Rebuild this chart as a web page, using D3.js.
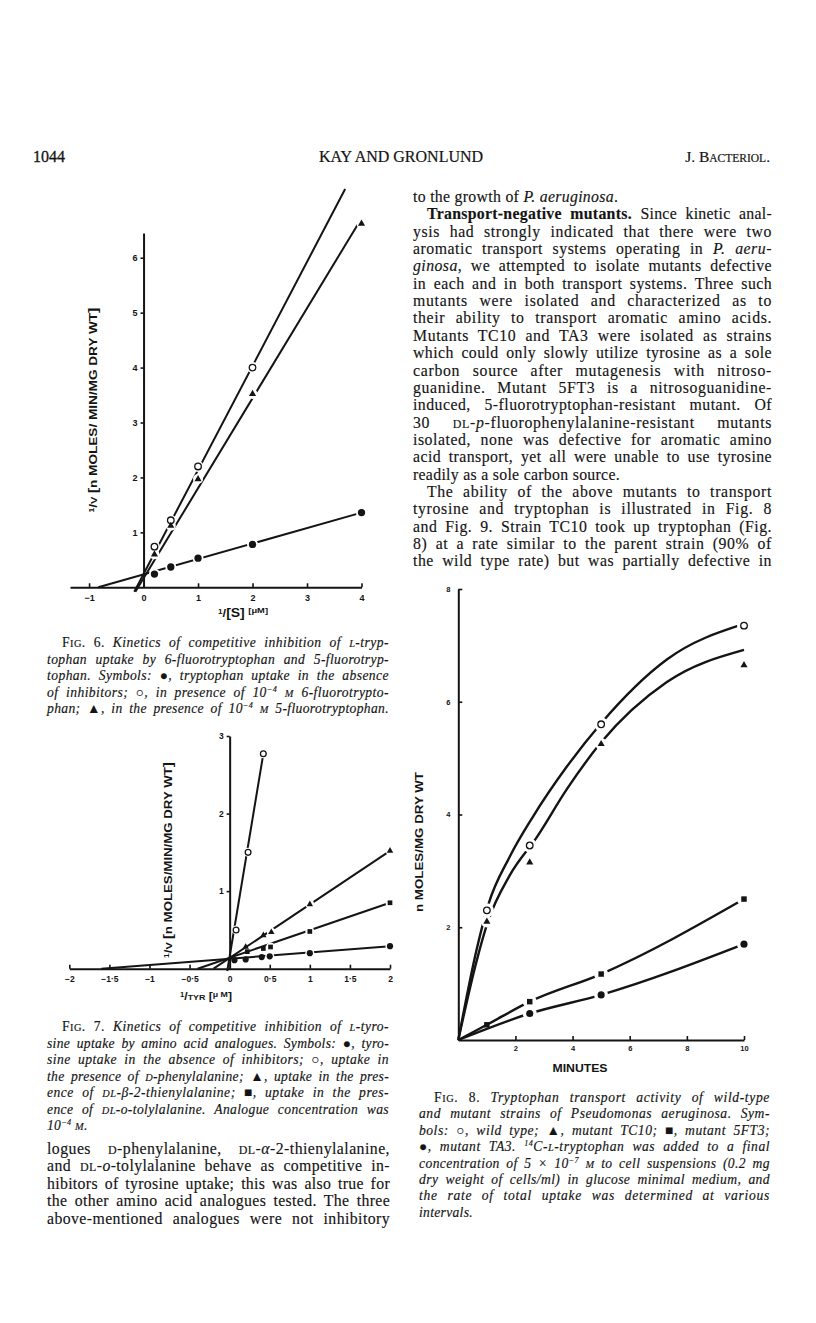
<!DOCTYPE html>
<html>
<head>
<meta charset="utf-8">
<script src="https://cdnjs.cloudflare.com/ajax/libs/d3/7.8.5/d3.min.js"></script>
<style>
  body { margin: 0; background: #fff; }
  svg { display: block; }
</style>
</head>
<body>
<svg id="page" width="816" height="1323"></svg>
<script>
// ---- Fig. 6 : 1/v against 1/[S] (tryptophan) ----
var fig6XTicks = [-1, 0, 1, 2, 3, 4];
var fig6YTicks = [1, 2, 3, 4, 5, 6];
var fig6ClosedX = [0.2, 0.5, 1, 2, 4];
var fig6Closed = [0.24, 0.37, 0.53, 0.78, 1.36];
var fig6OpenX = [0.2, 0.5, 1, 2];
var fig6Open = [0.74, 1.22, 2.2, 4.0];
var fig6TriX = [0.2, 0.5, 1, 2, 4];
var fig6Tri = [0.6, 1.12, 1.97, 3.52, 6.62];
// hand drawn lines, [x0, y0, x1, y1]
var fig6ClosedLine = [-0.83, 0, 4, 1.36];
var fig6OpenLine = [-0.17, -0.08, 3.7, 7.25];
var fig6TriLine = [-0.15, -0.08, 3.94, 6.62];

// ---- Fig. 7 : 1/v against 1/TYR ----
var fig7XTicks = [-2, -1.5, -1, -0.5, 0, 0.5, 1, 1.5, 2];
var fig7XLabels = ["\u22122", "\u22121\u00b75", "\u22121", "\u22120\u00b75", "0", "0\u00b75", "1", "1\u00b75", "2"];
var fig7YTicks = [1, 2, 3];
var fig7ClosedX = [0.06, 0.2, 0.4, 0.5, 1, 2];
var fig7Closed = [0.11, 0.12, 0.15, 0.16, 0.2, 0.29];
var fig7OpenX = [0.08, 0.23, 0.42];
var fig7Open = [0.5, 1.5, 2.77];
var fig7TriX = [0.2, 0.42, 0.52, 1, 2];
var fig7Tri = [0.28, 0.43, 0.47, 0.83, 1.52];
var fig7SqX = [0.22, 0.42, 0.51, 1, 2];
var fig7Sq = [0.22, 0.26, 0.28, 0.48, 0.85];
var fig7ClosedLine = [-1.6, 0, 2, 0.29];
var fig7OpenLine = [-0.03, -0.03, 0.42, 2.77];
var fig7TriLine = [-0.2, 0, 2, 1.52];
var fig7SqLine = [-0.4, 0, 2, 0.85];

// ---- Fig. 8 : uptake against minutes ----
var fig8XTicks = [2, 4, 6, 8, 10];
var fig8YTicks = [2, 4, 6, 8];
var fig8X = [1, 2.5, 5, 10];
var fig8Open = [2.3, 3.45, 5.6, 7.35];
var fig8Tri = [2.1, 3.15, 5.25, 6.65];
var fig8Sq = [0.27, 0.68, 1.17, 2.5];
var fig8ClosedX = [2.5, 5, 10];
var fig8Closed = [0.47, 0.8, 1.7];
// hand drawn curves
var fig8OpenCurveX = [0, 0.64, 1.05, 1.8, 2.6, 3.8, 5, 7.3, 10];
var fig8OpenCurveY = [0, 1.6, 2.4, 3.25, 3.95, 4.85, 5.62, 6.75, 7.38];
var fig8TriCurveX = [0, 0.64, 1.05, 1.8, 2.75, 3.8, 5, 7.3, 10];
var fig8TriCurveY = [0, 1.4, 2.12, 2.92, 3.6, 4.45, 5.28, 6.35, 6.92];

// ---- page text ----
var rightColumnText = [
  "to the growth of {i|P. aeruginosa}.$",
  ">{b|Transport-negative mutants.} Since kinetic anal-",
  "ysis had strongly indicated that there were two",
  "aromatic transport systems operating in {i|P. aeru-}",
  "{i|ginosa}, we attempted to isolate mutants defective",
  "in each and in both transport systems. Three such",
  "mutants were isolated and characterized as to",
  "their ability to transport aromatic amino acids.",
  "Mutants TC10 and TA3 were isolated as strains",
  "which could only slowly utilize tyrosine as a sole",
  "carbon source after mutagenesis with nitroso-",
  "guanidine. Mutant 5FT3 is a nitrosoguanidine-",
  "induced, 5-fluorotryptophan-resistant mutant. Of",
  "30 {sc|dl}-{i|p}-fluorophenylalanine-resistant mutants",
  "isolated, none was defective for aromatic amino",
  "acid transport, yet all were unable to use tyrosine",
  "readily as a sole carbon source.$",
  ">The ability of the above mutants to transport",
  "tyrosine and tryptophan is illustrated in Fig. 8",
  "and Fig. 9. Strain TC10 took up tryptophan (Fig.",
  "8) at a rate similar to the parent strain (90% of",
  "the wild type rate) but was partially defective in"
];
var fig6Caption = [
  ">{r|F}{r.sc|ig}{r|. 6.} Kinetics of competitive inhibition of {sc|l}-tryp-",
  "tophan uptake by 6-fluorotryptophan and 5-fluorotryp-",
  "tophan. Symbols: {r|\u25cf}, tryptophan uptake in the absence",
  "of inhibitors; {r|\u25cb}, in presence of 10{sup|\u22124} {sc|m} 6-fluorotrypto-",
  "phan; {r|\u25b2}, in the presence of 10{sup|\u22124} {sc|m} 5-fluorotryptophan."
];
var fig7Caption = [
  ">{r|F}{r.sc|ig}{r|. 7.} Kinetics of competitive inhibition of {sc|l}-tyro-",
  "sine uptake by amino acid analogues. Symbols: {r|\u25cf}, tyro-",
  "sine uptake in the absence of inhibitors; {r|\u25cb}, uptake in",
  "the presence of {sc|d}-phenylalanine; {r|\u25b2}, uptake in the pres-",
  "ence of {sc|dl}-\u03b2-2-thienylalanine; {r|\u25a0}, uptake in the pres-",
  "ence of {sc|dl}-o-tolylalanine. Analogue concentration was",
  "10{sup|\u22124} {sc|m}.$"
];
var leftColumnText = [
  "logues {sc|d}-phenylalanine, {sc|dl}-{i|\u03b1}-2-thienylalanine,",
  "and {sc|dl}-{i|o}-tolylalanine behave as competitive in-",
  "hibitors of tyrosine uptake; this was also true for",
  "the other amino acid analogues tested. The three",
  "above-mentioned analogues were not inhibitory"
];
var fig8Caption = [
  ">{r|F}{r.sc|ig}{r|. 8.} Tryptophan transport activity of wild-type",
  "and mutant strains of Pseudomonas aeruginosa. Sym-",
  "bols: {r|\u25cb}, wild type; {r|\u25b2}, mutant TC10; {r|\u25a0}, mutant 5FT3;",
  "{r|\u25cf}, mutant TA3. {sup|14}C-{sc|l}-tryptophan was added to a final",
  "concentration of 5 \u00d7 10{sup|\u22127} {sc|m} to cell suspensions (0.2 mg",
  "dry weight of cells/ml) in glucose minimal medium, and",
  "the rate of total uptake was determined at various",
  "intervals.$"
];

var svg = d3.select('#page');
var serif = '"Liberation Serif", "Times New Roman", serif';
var sans = '"Liberation Sans", Arial, sans-serif';
var ink = '#141414';

svg.append('rect').attr('width', 816).attr('height', 1323).attr('fill', '#fff');

// split "{kind|text}" markup into pieces
function parseMarkup(str) {
  var out = [], re = /\{([\w.]+)\|([^}]*)\}/g, last = 0, m;
  while ((m = re.exec(str)) !== null) {
    if (m.index > last) out.push({k: [], t: str.slice(last, m.index)});
    out.push({k: m[1].split('.'), t: m[2]});
    last = re.lastIndex;
  }
  if (last < str.length) out.push({k: [], t: str.slice(last)});
  return out;
}

function writeBlock(lines, opt) {
  lines.forEach(function(raw, i){
    var indent = raw.charAt(0) === '>' ? opt.indent : 0;
    var isLast = raw.slice(-1) === '$';
    var str = raw.replace(/^>/, '').replace(/\$$/, '');
    var text = svg.append('text')
      .attr('x', opt.x + indent)
      .attr('y', opt.y + i * opt.lead)
      .attr('fill', ink)
      .attr('stroke', ink).attr('stroke-width', 0.15)
      .style('font-family', serif)
      .style('font-size', opt.size + 'px')
      .style('font-style', opt.italic ? 'italic' : 'normal');
    parseMarkup(str).forEach(function(seg){
      var k = seg.k;
      var ts = text.append('tspan').text(k.indexOf('sc') >= 0 ? seg.t.toUpperCase() : seg.t);
      if (k.indexOf('i') >= 0) ts.style('font-style', 'italic');
      if (k.indexOf('r') >= 0) ts.style('font-style', 'normal');
      if (k.indexOf('b') >= 0) ts.style('font-weight', 'bold');
      if (k.indexOf('sc') >= 0) ts.style('font-size', (opt.size * 0.76) + 'px');
      if (k.indexOf('sup') >= 0) ts.style('font-size', (opt.size * 0.6) + 'px').attr('baseline-shift', opt.size * 0.38);
    });
    var plain = str.replace(/\{[\w.]+\|/g, '').replace(/\}/g, '');
    var natural = text.node().getComputedTextLength();
    var target = opt.width - indent;
    // share the slack between letters and word gaps
    var ls = isLast ? 0.3 : Math.max(0, Math.min((target - natural) * 0.45 / plain.length, 0.7));
    text.attr('letter-spacing', ls);
    if (!isLast) {
      natural = text.node().getComputedTextLength();
      var spaces = (plain.match(/ /g) || []).length;
      if (spaces > 0) text.attr('word-spacing', (target - natural) / spaces);
    }
  });
}

// running head
svg.append('text').attr('x', 33).attr('y', 162).text('1044')
  .attr('fill', ink).attr('stroke', ink).attr('stroke-width', 0.3)
  .style('font-family', serif).style('font-size', '16px');
svg.append('text').attr('x', 401).attr('y', 162).attr('text-anchor', 'middle').text('KAY AND GRONLUND')
  .attr('fill', ink).attr('stroke', ink).attr('stroke-width', 0.2)
  .style('font-family', serif).style('font-size', '16px');
var head = svg.append('text').attr('x', 770).attr('y', 162).attr('text-anchor', 'end')
  .attr('fill', ink).attr('stroke', ink).attr('stroke-width', 0.2)
  .style('font-family', serif).style('font-size', '15.5px');
head.append('tspan').text('J. B');
head.append('tspan').text('ACTERIOL').style('font-size', '11.5px');
head.append('tspan').text('.');

writeBlock(rightColumnText, {x: 413, y: 202, lead: 17.35, width: 359, indent: 14, size: 15.8});
writeBlock(fig6Caption, {x: 47, y: 647, lead: 16.5, width: 342, indent: 15, size: 13.6, italic: true});
writeBlock(fig7Caption, {x: 47, y: 1031, lead: 16.5, width: 342, indent: 15, size: 13.6, italic: true});
writeBlock(leftColumnText, {x: 47, y: 1154, lead: 17.4, width: 343, indent: 0, size: 15.8});
writeBlock(fig8Caption, {x: 419, y: 1102, lead: 16.4, width: 351, indent: 15, size: 13.6, italic: true});

// ---- plotting helpers ----
function drawSegment(g, x, y, seg, w) {
  g.append('line')
    .attr('x1', x(seg[0])).attr('y1', y(seg[1]))
    .attr('x2', x(seg[2])).attr('y2', y(seg[3]))
    .attr('stroke', ink).attr('stroke-width', w);
}

function drawCurve(g, x, y, xs, ys, w) {
  var line = d3.line().x(function(d){ return x(d[0]); }).y(function(d){ return y(d[1]); })
    .curve(d3.curveMonotoneX);
  g.append('path').attr('d', line(d3.zip(xs, ys)))
    .attr('fill', 'none').attr('stroke', ink).attr('stroke-width', w);
}

function drawHalos(g, x, y, xs, ys, r) {
  g.selectAll(null).data(d3.zip(xs, ys)).enter().append('circle')
    .attr('cx', function(d){ return x(d[0]); })
    .attr('cy', function(d){ return y(d[1]); })
    .attr('r', r).attr('fill', '#fff');
}

function drawMarks(g, x, y, xs, ys, kind, size) {
  var sym = {closed: d3.symbolCircle, open: d3.symbolCircle, tri: d3.symbolTriangle, sq: d3.symbolSquare}[kind];
  g.selectAll(null).data(d3.zip(xs, ys)).enter().append('path')
    .attr('transform', function(d){ return 'translate(' + x(d[0]) + ',' + y(d[1]) + ')'; })
    .attr('d', d3.symbol(sym, size))
    .attr('fill', kind === 'open' ? '#fff' : ink)
    .attr('stroke', kind === 'open' ? ink : 'none')
    .attr('stroke-width', 1.3);
}

function styleAxis(g, size) {
  g.select('.domain').attr('stroke', ink).attr('stroke-width', 2);
  g.selectAll('.tick line').attr('stroke', ink).attr('stroke-width', 1.6);
  g.selectAll('.tick text').attr('fill', ink)
    .style('font-family', sans).style('font-weight', 'bold').style('font-size', size + 'px');
}

function axisTitle(cx, cy, rotate, parts, len, size) {
  var t = svg.append('text')
    .attr('transform', 'translate(' + cx + ',' + cy + ') rotate(' + rotate + ')')
    .attr('text-anchor', 'middle')
    .attr('textLength', len).attr('lengthAdjust', 'spacingAndGlyphs')
    .attr('fill', ink)
    .style('font-family', sans).style('font-weight', 'bold').style('font-size', size + 'px');
  parts.forEach(function(p){
    var s = t.append('tspan').text(p[0]);
    if (p[1]) s.style('font-size', p[1] + 'px');
    if (p[2]) s.attr('baseline-shift', p[2]);
  });
}

// ---- Fig. 6 ----
var x6 = d3.scaleLinear().domain([-1.35, 4]).range([70, 361.5]);
var y6 = d3.scaleLinear().domain([0, 6.45]).range([587.3, 233]);
var g6 = svg.append('g');
drawSegment(g6, x6, y6, fig6ClosedLine, 2);
drawSegment(g6, x6, y6, fig6OpenLine, 2);
drawSegment(g6, x6, y6, fig6TriLine, 2);
drawHalos(g6, x6, y6, fig6ClosedX, fig6Closed, 5.5);
drawHalos(g6, x6, y6, fig6OpenX, fig6Open, 5.5);
drawHalos(g6, x6, y6, fig6TriX, fig6Tri, 5);
var ax6 = g6.append('g').attr('transform', 'translate(0,' + y6(0) + ')')
  .call(d3.axisBottom(x6).tickValues(fig6XTicks).tickSizeInner(-4).tickSizeOuter(0).tickPadding(7).tickFormat(d3.format('d')));
styleAxis(ax6, 9);
var ay6 = g6.append('g').attr('transform', 'translate(' + x6(0) + ',0)')
  .call(d3.axisLeft(y6).tickValues(fig6YTicks).tickSizeInner(3).tickSizeOuter(0).tickPadding(3).tickFormat(d3.format('d')));
styleAxis(ay6, 9);
drawMarks(g6, x6, y6, fig6ClosedX, fig6Closed, 'closed', 42);
drawMarks(g6, x6, y6, fig6OpenX, fig6Open, 'open', 34);
drawMarks(g6, x6, y6, fig6TriX, fig6Tri, 'tri', 22);
axisTitle(97, 410, -90, [['1', 7, 3], ['/', 11], ['V ', 9], ['[', 13], ['n MOLES/ MIN/MG DRY WT', 11], [']', 13]], 205, 11);
axisTitle(243, 617, 0, [['1', 7, 3], ['/', 11], ['[S]', 12], [' '], ['[\u03bcM]', 8, 4]], 50, 11);

// ---- Fig. 7 ----
var x7 = d3.scaleLinear().domain([-2, 2]).range([69.3, 390]);
var y7 = d3.scaleLinear().domain([0, 3]).range([968.7, 736]);
var g7 = svg.append('g');
drawSegment(g7, x7, y7, fig7ClosedLine, 2);
drawSegment(g7, x7, y7, fig7OpenLine, 2);
drawSegment(g7, x7, y7, fig7TriLine, 2);
drawSegment(g7, x7, y7, fig7SqLine, 2);
drawHalos(g7, x7, y7, fig7OpenX, fig7Open, 4.5);
drawHalos(g7, x7, y7, fig7TriX.slice(2), fig7Tri.slice(2), 4.5);
drawHalos(g7, x7, y7, fig7SqX.slice(2), fig7Sq.slice(2), 4.5);
drawHalos(g7, x7, y7, fig7ClosedX.slice(3), fig7Closed.slice(3), 4.5);
var ax7 = g7.append('g').attr('transform', 'translate(0,' + y7(0) + ')')
  .call(d3.axisBottom(x7).tickValues(fig7XTicks).tickSizeInner(-4).tickSizeOuter(0).tickPadding(7)
    .tickFormat(function(d, i){ return fig7XLabels[i]; }));
styleAxis(ax7, 8.5);
var ay7 = g7.append('g').attr('transform', 'translate(' + x7(0) + ',0)')
  .call(d3.axisLeft(y7).tickValues(fig7YTicks).tickSizeInner(3).tickSizeOuter(0).tickPadding(3).tickFormat(d3.format('d')));
styleAxis(ay7, 8.5);
drawMarks(g7, x7, y7, fig7ClosedX, fig7Closed, 'closed', 30);
drawMarks(g7, x7, y7, fig7OpenX, fig7Open, 'open', 26);
drawMarks(g7, x7, y7, fig7TriX, fig7Tri, 'tri', 18);
drawMarks(g7, x7, y7, fig7SqX, fig7Sq, 'sq', 22);
axisTitle(172, 860, -90, [['1', 7, 3], ['/', 11], ['V ', 9], ['[', 13], ['n MOLES/MIN/MG DRY WT', 11], [']', 13]], 196, 11);
axisTitle(206, 1000, 0, [['1', 7, 3], ['/', 11], ['TYR', 8], [' ['], ['\u03bc M', 8, 3], [']']], 52, 11);

// ---- Fig. 8 ----
var x8 = d3.scaleLinear().domain([0, 10]).range([458.3, 744]);
var y8 = d3.scaleLinear().domain([0, 8]).range([1040, 589]);
var g8 = svg.append('g');
drawCurve(g8, x8, y8, fig8OpenCurveX, fig8OpenCurveY, 2.4);
drawCurve(g8, x8, y8, fig8TriCurveX, fig8TriCurveY, 2.4);
drawCurve(g8, x8, y8, [0].concat(fig8X), [0].concat(fig8Sq), 2.4);
drawCurve(g8, x8, y8, [0].concat(fig8ClosedX), [0].concat(fig8Closed), 2.4);
drawHalos(g8, x8, y8, fig8X, fig8Open, 7);
drawHalos(g8, x8, y8, fig8X, fig8Tri, 6);
drawHalos(g8, x8, y8, fig8X.slice(1), fig8Sq.slice(1), 7);
drawHalos(g8, x8, y8, fig8ClosedX, fig8Closed, 7);
var ax8 = g8.append('g').attr('transform', 'translate(0,' + y8(0) + ')')
  .call(d3.axisBottom(x8).tickValues(fig8XTicks).tickSizeInner(-4).tickSizeOuter(0).tickPadding(6).tickFormat(d3.format('d')));
styleAxis(ax8, 7.5);
var ay8 = g8.append('g').attr('transform', 'translate(' + x8(0) + ',0)')
  .call(d3.axisLeft(y8).tickValues(fig8YTicks).tickSizeInner(-4).tickSizeOuter(0).tickPadding(8).tickFormat(d3.format('d')));
styleAxis(ay8, 7.5);
drawMarks(g8, x8, y8, fig8X, fig8Open, 'open', 34);
drawMarks(g8, x8, y8, fig8X, fig8Tri, 'tri', 22);
drawMarks(g8, x8, y8, fig8X, fig8Sq, 'sq', 30);
drawMarks(g8, x8, y8, fig8ClosedX, fig8Closed, 'closed', 40);
axisTitle(423, 842, -90, [['n MOLES/MG DRY WT']], 140, 10);
axisTitle(580, 1072, 0, [['MINUTES']], 55, 10);
</script>
</body>
</html>
